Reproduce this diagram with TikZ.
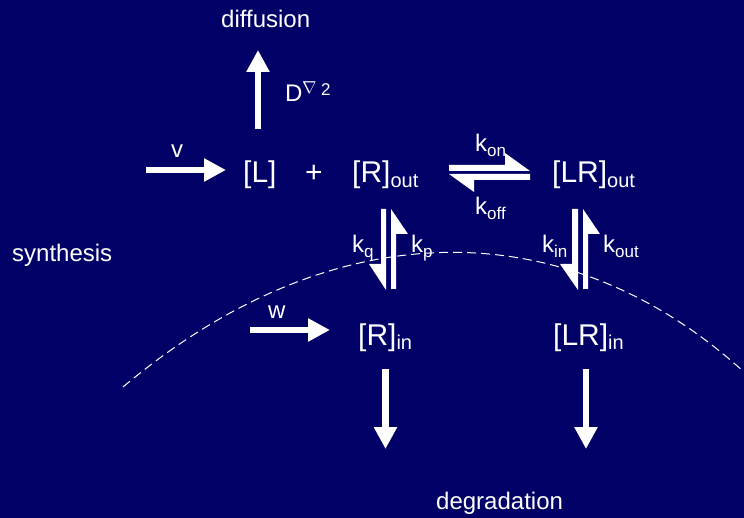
\documentclass[tikz,border=0pt]{standalone}
\usepackage{fontspec}
\setmainfont{Liberation Sans}
\usetikzlibrary{arrows.meta}
\definecolor{bg}{RGB}{0,0,102}
\newcommand{\mainsz}{\fontsize{30}{35}\selectfont}
\newcommand{\lblsz}{\fontsize{24}{28}\selectfont}
\newcommand{\subsz}{\fontsize{17}{19}\selectfont}
\newcommand{\bigsubsz}{\fontsize{20}{22}\selectfont}
\newcommand{\lowsub}[1]{\raisebox{-5pt}{\subsz #1}}
\newcommand{\biglowsub}[1]{\raisebox{-5pt}{\bigsubsz #1}}
\tikzset{
  txt/.style={white, inner sep=0pt, anchor=base west},
  mainlbl/.style={txt, font=\mainsz},
  smalllbl/.style={txt, font=\lblsz},
  fatarrow/.style={white, line width=6.5pt, -{Triangle[width=22pt,length=22pt]}},
  harp/.style={fill=white},
  membrane/.style={white, line width=1pt, dash pattern=on 9pt off 5pt}
}
\begin{document}
\begin{tikzpicture}[x=1pt,y=-1pt]
\fill[bg] (0,0) rectangle (744,518);
\useasboundingbox (0,0) rectangle (744,518);

% membrane
\coordinate (mL) at (123,387);
\coordinate (mR) at (744,372);
\draw[membrane] (mL) .. controls (336,208) and (568,212) .. (mR);

% texts
\node[smalllbl] (diff) at (221,28) {diffusion};
\node[smalllbl] (D) at (285,102) {D};
\node[txt, font=\subsz] (nabla) at (302,94) {$\nabla$};
\node[txt, font=\subsz] (two) at (321,96) {2};
\node[smalllbl] (v) at (171,158) {v};
\node[mainlbl] (L) at (243,183) {[L]};
\node[mainlbl] (plus) at (305,183) {+};
\node[mainlbl] (Rout) at (352,183) {[R]\biglowsub{out}};
\node[mainlbl] (LRout) at (552,183) {[LR]\biglowsub{out}};
\node[smalllbl] (kon) at (475,152) {k\lowsub{on}};
\node[smalllbl] (koff) at (475,215) {k\lowsub{off}};
\node[smalllbl] (kq) at (352,253) {k\lowsub{q}};
\node[smalllbl] (kp) at (411,253) {k\lowsub{p}};
\node[smalllbl] (kin) at (542,253) {k\lowsub{in}};
\node[smalllbl] (kout) at (603,253) {k\lowsub{out}};
\node[smalllbl] (synth) at (12,262) {synthesis};
\node[smalllbl] (w) at (268,319) {w};
\node[mainlbl] (Rin) at (358,345) {[R]\biglowsub{in}};
\node[mainlbl] (LRin) at (553,345) {[LR]\biglowsub{in}};
\node[smalllbl] (degr) at (436,509) {degradation};

% arrow end points
\coordinate (upS) at (258,129);
\coordinate (upE) at (258,50);
\coordinate (vS) at (146,170);
\coordinate (vE) at (226,170);
\coordinate (wS) at (250,330);
\coordinate (wE) at (330,330);
\coordinate (d1S) at (385.5,369);
\coordinate (d1E) at (385.5,449);
\coordinate (d2S) at (586,369);
\coordinate (d2E) at (586,449);

\draw[fatarrow] (upS) -- (upE);
\draw[fatarrow] (vS) -- (vE);
\draw[fatarrow] (wS) -- (wE);
\draw[fatarrow] (d1S) -- (d1E);
\draw[fatarrow] (d2S) -- (d2E);

% harpoons: binding
\fill[harp] (449,165) -- (505,165) -- (505,153) -- (530,171) -- (449,171) -- cycle;
\fill[harp] (530,174) -- (449,174) -- (474,192) -- (474,180) -- (530,180) -- cycle;
% harpoons: R in/out
\fill[harp] (381,209) -- (386,209) -- (386,290) -- (369,264) -- (381,264) -- cycle;
\fill[harp] (391,289) -- (391,209) -- (408,234) -- (396,234) -- (396,289) -- cycle;
% harpoons: LR in/out
\fill[harp] (572,209) -- (578,209) -- (578,290) -- (560,264) -- (572,264) -- cycle;
\fill[harp] (583,289) -- (583,209) -- (600,234) -- (588,234) -- (588,289) -- cycle;
\end{tikzpicture}
\end{document}
